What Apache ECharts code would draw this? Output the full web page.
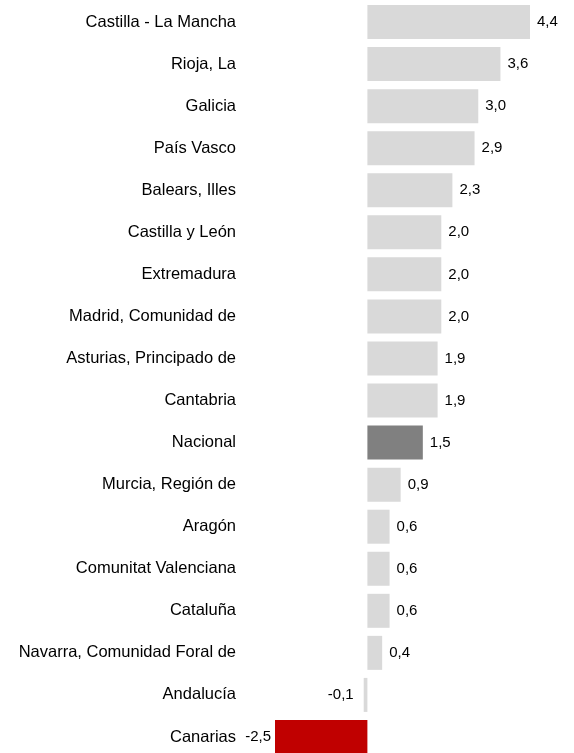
<!DOCTYPE html>
<html>
<head>
<meta charset="utf-8">
<script src="https://cdn.jsdelivr.net/npm/echarts@6/dist/echarts.min.js"></script>
<style>
  html, body { margin: 0; padding: 0; background: #fff; }
  #main { width: 574px; height: 753px; }
</style>
</head>
<body>
<div id="main"></div>
<script>
var categories = [
  "Castilla - La Mancha", "Rioja, La", "Galicia", "País Vasco", "Balears, Illes",
  "Castilla y León", "Extremadura", "Madrid, Comunidad de", "Asturias, Principado de",
  "Cantabria", "Nacional", "Murcia, Región de", "Aragón", "Comunitat Valenciana",
  "Cataluña", "Navarra, Comunidad Foral de", "Andalucía", "Canarias"
];
var values = [4.4, 3.6, 3.0, 2.9, 2.3, 2.0, 2.0, 2.0, 1.9, 1.9, 1.5, 0.9, 0.6, 0.6, 0.6, 0.4, -0.1, -2.5];

var FONT = "'Liberation Sans', Arial, sans-serif";

var chartDom = document.getElementById("main");
var myChart = echarts.init(chartDom, null, { renderer: "canvas" });

function barColor(name, v) {
  if (name === "Nacional") return "#808080";
  if (v < -1) return "#c00000";
  return "#d9d9d9";
}

var seriesData = values.map(function (v, i) {
  var item = {
    value: v,
    itemStyle: { color: barColor(categories[i], v) }
  };
  // negative values get their label on the left of the bar
  if (v < 0) {
    item.label = { position: "left", distance: v < -1 ? 4 : 10 };
  }
  return item;
});

var option = {
  animation: false,
  grid: { left: 275, right: 44, top: 1, height: 757, outerBoundsMode: "none" },
  xAxis: {
    type: "value",
    min: -2.5,
    max: 4.4,
    show: false
  },
  yAxis: {
    type: "category",
    inverse: true,
    data: categories,
    axisLine: { show: false },
    axisTick: { show: false },
    axisLabel: {
      margin: 39,
      fontFamily: FONT,
      fontSize: 16.5,
      color: "#000"
    }
  },
  series: [
    {
      type: "bar",
      barWidth: 34,
      data: seriesData,
      label: {
        show: true,
        position: "right",
        distance: 7,
        fontFamily: FONT,
        fontSize: 15,
        color: "#000",
        formatter: function (p) {
          return p.value.toFixed(1).replace(".", ",");
        }
      }
    }
  ]
};

option && myChart.setOption(option);
</script>
</body>
</html>
